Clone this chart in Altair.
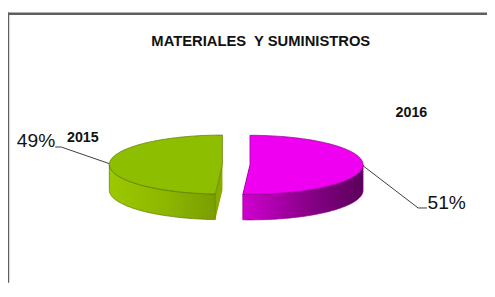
import math
import altair as alt
import pandas as pd

# ---- data ----
years = ["2015", "2016"]
values = [49, 51]
title_text = "MATERIALES\u00a0 Y SUMINISTROS"

# ---- styles ----
top_colors = ["#8DBE00", "#F000F0"]
edge_colors = ["#5C7800", "#8A008A"]
side_stops = [
    [("#9CC800", 0.0), ("#8CB600", 0.55), ("#7A9E00", 1.0)],
    [("#D000D0", 0.0), ("#8E008E", 0.5), ("#5A005A", 1.0)],
]
cut_colors = ["#86AA00", "#7A007A"]

# ---- layout (page pixels) ----
CX, CY, RX, RY, DEPTH, EXPLODE = 240, 165, 115, 30, 26, 14
PAGE_X0, PAGE_Y0 = 8, 8
W, H = 487, 277

total = sum(values)


def ell(cx, cy, ang, dy=0.0):
    r = math.radians(ang)
    return cx + RX * math.sin(r), cy - RY * math.cos(r) + dy


rows = []
slice_info = {}
a = 0.0
for i in [1, 0]:  # clockwise from 12 o'clock
    a0 = a
    a1 = a + 360.0 * values[i] / total
    a = a1
    mid = (a0 + a1) / 2
    cx = CX + EXPLODE * math.sin(math.radians(mid))
    cy = CY - EXPLODE * (RY / RX) * math.cos(math.radians(mid))
    slice_info[i] = (a0, a1, mid, cx, cy)

    def add(shape, face, pts):
        for k, (x, y) in enumerate(pts):
            rows.append({"shape": shape, "face": face, "slice": years[i], "idx": k, "x": x, "y": y})

    n = 80
    arc = [ell(cx, cy, a0 + (a1 - a0) * t / n) for t in range(n + 1)]
    add(f"top{i}", "top", [(cx, cy)] + arc + [(cx, cy)])

    s, e = max(a0, 90.0), min(a1, 270.0)
    if s < e:
        up = [ell(cx, cy, s + (e - s) * t / n) for t in range(n + 1)]
        dn = [ell(cx, cy, e - (e - s) * t / n, DEPTH) for t in range(n + 1)]
        add(f"side{i}", "side", up + dn + [up[0]])

    for j, b in enumerate((a0, a1)):
        px, py = ell(cx, cy, b)
        add(f"cut{i}{j}", "cut", [(cx, cy), (px, py), (px, py + DEPTH), (cx, cy + DEPTH), (cx, cy)])

geo = pd.DataFrame(rows)

X = alt.X("x:Q", scale=alt.Scale(domain=[PAGE_X0, PAGE_X0 + W], nice=False, zero=False), axis=None)
Y = alt.Y("y:Q", scale=alt.Scale(domain=[PAGE_Y0, PAGE_Y0 + H], nice=False, zero=False, reverse=True), axis=None)


def poly(face, i, fill, stroke, sw):
    return (
        alt.Chart(geo)
        .transform_filter((alt.datum.face == face) & (alt.datum.slice == years[i]))
        .mark_line(fill=fill, stroke=stroke, strokeWidth=sw, strokeJoin="round")
        .encode(x=X, y=Y, order=alt.Order("idx:Q"), detail="shape:N")
    )


def grad(stops):
    return alt.Gradient(
        gradient="linear",
        stops=[alt.GradientStop(color=c, offset=o) for c, o in stops],
        x1=0, x2=1, y1=0, y2=0,
    )


layers = []
for i in range(2):
    layers.append(poly("cut", i, cut_colors[i], cut_colors[i], 0))
for i in range(2):
    layers.append(poly("side", i, grad(side_stops[i]), edge_colors[i], 0.7))
for i in range(2):
    layers.append(poly("top", i, top_colors[i], edge_colors[i], 0.7))

# ---- leader lines ----
pct = [f"{round(100 * v / total)}%" for v in values]
elbows = {0: [(62, 147), (56, 147)], 1: [(425, 209), (434, 209)]}
lead_rows = []
for i in range(2):
    _, _, mid, cx, cy = slice_info[i]
    pts = [ell(cx, cy, mid)] + elbows[i]
    for k, (x, y) in enumerate(pts):
        lead_rows.append({"lab": years[i], "idx": k, "x": x, "y": y})
leads = pd.DataFrame(lead_rows)
layers.append(
    alt.Chart(leads)
    .mark_line(stroke="#3c3c3c", strokeWidth=1)
    .encode(x=X, y=Y, order=alt.Order("idx:Q"), detail="lab:N")
)

# ---- labels ----
pct_pos = {0: (56, 146.5, "right"), 1: (434.5, 210, "left")}
year_pos = {0: (68, 142), 1: (402, 116)}
for i in range(2):
    x, y, al = pct_pos[i]
    layers.append(
        alt.Chart(pd.DataFrame({"t": [pct[i]], "x": [x], "y": [y]}))
        .mark_text(font="Liberation Sans", fontSize=19.5, align=al, baseline="alphabetic", color="#111111")
        .encode(x=X, y=Y, text="t:N")
    )
    x, y = year_pos[i]
    layers.append(
        alt.Chart(pd.DataFrame({"t": [years[i]], "x": [x], "y": [y]}))
        .mark_text(font="Liberation Sans", fontSize=14.5, fontWeight="bold", align="left", baseline="alphabetic", color="#111111")
        .encode(x=X, y=Y, text="t:N")
    )

layers.append(
    alt.Chart(pd.DataFrame({"t": [title_text], "x": [265], "y": [44]}))
    .mark_text(font="Liberation Sans", fontSize=15, fontWeight="bold", align="center", baseline="alphabetic", color="#111111")
    .encode(x=X, y=Y, text="t:N")
)

# ---- chart frame ----
layers.append(
    alt.Chart(pd.DataFrame({"k": [0]}))
    .mark_rule(stroke="#5f5f5f", strokeWidth=2.5)
    .encode(x=alt.value(0), x2=alt.value(W), y=alt.value(3.5))
)
layers.append(
    alt.Chart(pd.DataFrame({"k": [0]}))
    .mark_rule(stroke="#5f5f5f", strokeWidth=2.5)
    .encode(x=alt.value(0), y=alt.value(2.3), y2=alt.value(H))
)

chart = (
    alt.layer(*layers)
    .properties(width=W, height=H, padding=0, autosize="none", background="white")
    .configure_view(stroke=None)
)

chart.save("out.html", embed_options={"renderer": "svg", "actions": False})
